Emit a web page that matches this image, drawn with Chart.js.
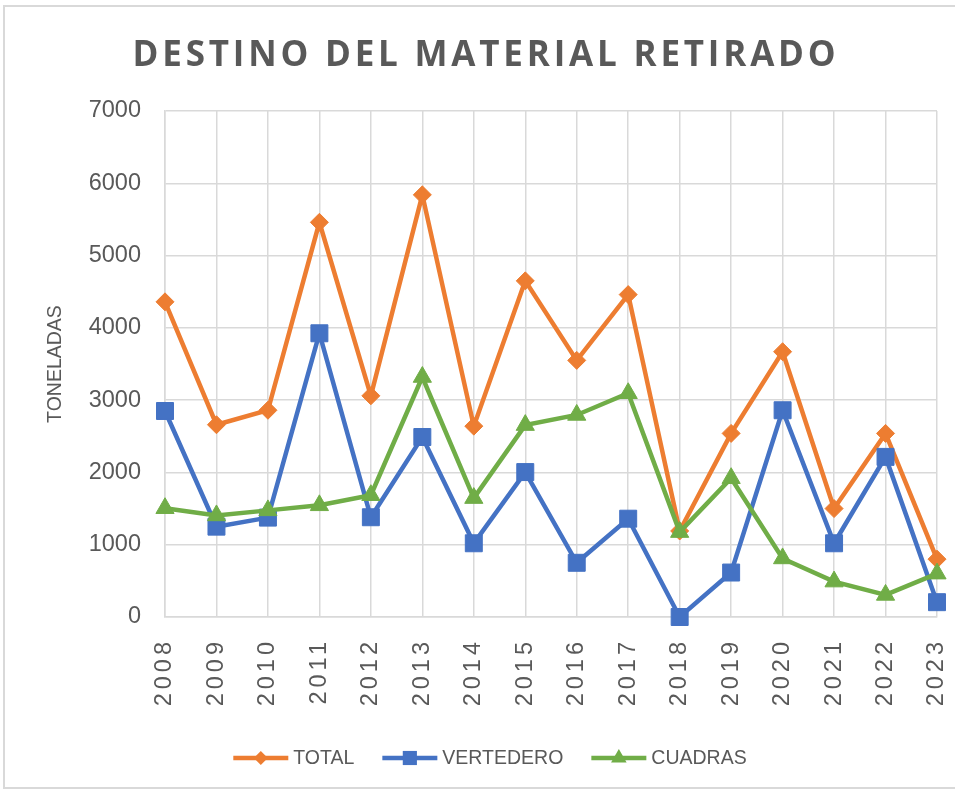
<!DOCTYPE html>
<html>
<head>
<meta charset="utf-8">
<script src="https://cdn.jsdelivr.net/npm/chart.js@4.4.1/dist/chart.umd.min.js"></script>
<style>
  html, body { margin: 0; padding: 0; background: #ffffff; }
  #wrap { position: relative; width: 955px; height: 794px; overflow: hidden; }
  #frame { position: absolute; left: 3px; top: 5px; width: 960px; height: 784px; border: 2px solid #d9d9d9; box-sizing: border-box; }
  canvas { position: absolute; left: 0; top: 0; }
</style>
</head>
<body>
<div id="wrap">
  <div id="frame"></div>
  <canvas id="c" width="955" height="794"></canvas>
</div>
<script>
const chartTitle = 'DESTINO DEL MATERIAL RETIRADO';
const yAxisTitle = 'TONELADAS';
const years = ['2008','2009','2010','2011','2012','2013','2014','2015','2016','2017','2018','2019','2020','2021','2022','2023'];
const seriesNames = ['TOTAL', 'VERTEDERO', 'CUADRAS'];
const total     = [4360, 2660, 2860, 5460, 3060, 5840, 2640, 4650, 3550, 4460, 1190, 2540, 3670, 1500, 2540, 800];
const vertedero = [2850, 1250, 1375, 3925, 1380, 2490, 1020, 2005, 750, 1360, 0, 615, 2860, 1020, 2215, 205];
const cuadras   = [1505, 1405, 1475, 1545, 1685, 3320, 1645, 2655, 2795, 3095, 1175, 1920, 810, 490, 305, 600];
const yTicksMin = 0, yTicksMax = 7000, yStep = 1000;

const colors = ['#ED7D31', '#4472C4', '#70AD47'];
const TEXT = '#595959';
const GRID = '#d9d9d9';
Chart.defaults.font.family = '"Liberation Sans", Arial, sans-serif';
Chart.defaults.color = TEXT;

function drawMarker(ctx, style, x, y, r) {
  ctx.beginPath();
  if (style === 'rectRot') {
    ctx.moveTo(x, y - r); ctx.lineTo(x + r, y); ctx.lineTo(x, y + r); ctx.lineTo(x - r, y);
  } else if (style === 'rect') {
    const h = r * Math.SQRT1_2;
    ctx.rect(x - h, y - h, 2 * h, 2 * h);
  } else {
    ctx.moveTo(x, y - r); ctx.lineTo(x + r * 0.866, y + r * 0.5); ctx.lineTo(x - r * 0.866, y + r * 0.5);
  }
  ctx.closePath();
  ctx.fill();
}

const customPlugin = {
  id: 'custom',
  beforeDraw(chart) {
    const xs = chart.scales.x;
    if (xs && !xs._lsPatched) {
      const orig = xs.drawLabels.bind(xs);
      xs.drawLabels = function (ca) {
        const ctx = this.ctx;
        ctx.save();
        ctx.letterSpacing = '4px';
        orig(ca);
        ctx.restore();
      };
      xs._lsPatched = true;
    }
  },
  afterDraw(chart) {
    const ctx = chart.ctx;
    // Title
    ctx.save();
    ctx.font = 'bold 35px "Open Sans", sans-serif';
    ctx.letterSpacing = '3.8px';
    ctx.fillStyle = TEXT;
    ctx.textAlign = 'center';
    ctx.textBaseline = 'alphabetic';
    ctx.fillText(chartTitle, 486, 66);
    ctx.restore();

    // Legend
    ctx.save();
    ctx.font = '19.5px "Liberation Sans", Arial, sans-serif';
    const lineLen = 55, gap = 5, spacing = 28, cy = 758;
    const ds = chart.data.datasets;
    const widths = ds.map(d => ctx.measureText(d.label).width);
    const totalW = widths.reduce((s, w) => s + lineLen + gap + w, 0) + spacing * (ds.length - 1);
    let x = 490 - totalW / 2;
    const legendR = { rectRot: 7, rect: 10, triangle: 9 };
    ds.forEach((d, i) => {
      ctx.strokeStyle = d.borderColor;
      ctx.lineWidth = 4.5;
      ctx.beginPath();
      ctx.moveTo(x, cy);
      ctx.lineTo(x + lineLen, cy);
      ctx.stroke();
      ctx.fillStyle = d.borderColor;
      drawMarker(ctx, d.pointStyle, x + lineLen / 2, cy, legendR[d.pointStyle]);
      ctx.fillStyle = TEXT;
      ctx.textAlign = 'left';
      ctx.textBaseline = 'middle';
      ctx.fillText(d.label, x + lineLen + gap, cy + 1);
      x += lineLen + gap + widths[i] + spacing;
    });
    ctx.restore();
  }
};

const datasetsData = [total, vertedero, cuadras];
const pointStyles = ['rectRot', 'rect', 'triangle'];
const pointRadii = [9, 12, 10.5];

new Chart(document.getElementById('c'), {
  type: 'line',
  data: {
    labels: years,
    datasets: seriesNames.map((name, i) => ({
      label: name,
      data: datasetsData[i],
      borderColor: colors[i],
      backgroundColor: colors[i],
      pointBackgroundColor: colors[i],
      pointBorderColor: colors[i],
      pointBorderWidth: 1,
      pointStyle: pointStyles[i],
      pointRadius: pointRadii[i],
      borderWidth: 4.5,
      tension: 0,
      clip: false,
      order: 3 - i
    }))
  },
  options: {
    responsive: false,
    animation: false,
    devicePixelRatio: 1,
    layout: { padding: { top: 111, right: 18, bottom: 0, left: 0 } },
    plugins: {
      legend: { display: false },
      title: { display: false },
      tooltip: { enabled: false }
    },
    scales: {
      x: {
        offset: false,
        grid: { color: GRID, lineWidth: 1.5, drawTicks: false },
        border: { color: GRID, width: 1.5 },
        ticks: {
          color: TEXT,
          font: { size: 23.5 },
          minRotation: 90,
          maxRotation: 90,
          padding: 21,
          autoSkip: false
        },
        afterFit(scale) {
          scale.height = 177;
          scale.paddingLeft = 0;
          scale.paddingRight = 0;
        }
      },
      y: {
        min: yTicksMin,
        max: yTicksMax,
        grid: { color: GRID, lineWidth: 1.5, drawTicks: false },
        border: { color: GRID, width: 1.5 },
        ticks: {
          stepSize: yStep,
          color: TEXT,
          font: { size: 23.5 },
          padding: 24,
          callback: (v) => String(v)
        },
        title: {
          display: true,
          text: yAxisTitle,
          color: TEXT,
          font: { size: 19.5 },
          padding: { top: 44, bottom: 0 }
        },
        afterFit(scale) { scale.width = 165; }
      }
    }
  },
  plugins: [customPlugin]
});
</script>
</body>
</html>
